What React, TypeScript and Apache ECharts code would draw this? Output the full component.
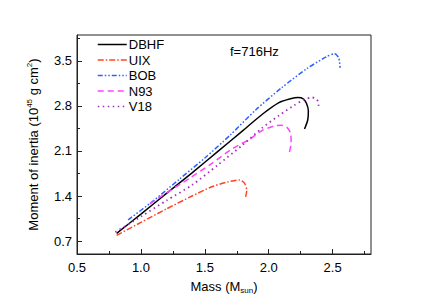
import React, { useEffect, useRef } from "react";
import * as echarts from "echarts";

const FONT = "'Liberation Sans', Arial, sans-serif";

const seriesNames = ["DBHF", "UIX", "BOB", "N93", "V18"];

const DBHF_M = [0.81, 1.0, 1.2, 1.4, 1.6, 1.8, 1.95, 2.08, 2.17, 2.23, 2.27, 2.295, 2.31, 2.305, 2.28];
const DBHF_I = [0.82, 1.12, 1.44, 1.76, 2.09, 2.42, 2.67, 2.85, 2.91, 2.93, 2.91, 2.84, 2.72, 2.58, 2.44];

const UIX_M = [0.81, 1.0, 1.2, 1.4, 1.55, 1.68, 1.77, 1.81, 1.828, 1.816];
const UIX_I = [0.79, 0.99, 1.2, 1.4, 1.54, 1.62, 1.65, 1.6, 1.49, 1.36];

const BOB_M = [0.9, 1.1, 1.3, 1.5, 1.7, 1.9, 2.1, 2.3, 2.45, 2.515, 2.548, 2.558];
const BOB_I = [1.03, 1.33, 1.66, 1.99, 2.35, 2.74, 3.08, 3.38, 3.56, 3.61, 3.54, 3.39];

const N93_M = [1.07, 1.2, 1.38, 1.55, 1.72, 1.85, 1.95, 2.05, 2.1, 2.14, 2.17, 2.175, 2.162];
const N93_I = [1.28, 1.45, 1.675, 1.9, 2.14, 2.28, 2.42, 2.49, 2.5, 2.47, 2.38, 2.22, 2.08];

const V18_M = [0.8, 1.0, 1.2, 1.4, 1.6, 1.8, 1.95, 2.08, 2.2, 2.28, 2.34, 2.37, 2.385, 2.39];
const V18_I = [0.84, 1.08, 1.33, 1.57, 1.88, 2.2, 2.46, 2.65, 2.81, 2.9, 2.93, 2.91, 2.87, 2.8];

const xMajorTicks = [0.5, 1.0, 1.5, 2.0, 2.5];
const xMinorTicks = [0.75, 1.25, 1.75, 2.25, 2.75];
const yMajorTicks = [0.7, 1.4, 2.1, 2.8, 3.5];
const yMinorTicks = [1.05, 1.75, 2.45, 3.15, 3.85];

const zip = (a: number[], b: number[]) => a.map((v, i) => [v, b[i]]);

export default function App() {
  const ref = useRef<HTMLDivElement>(null);
  useEffect(() => {
    if (!ref.current) return;
    const chart = echarts.init(ref.current, undefined, { renderer: "svg" });
    const lineSeries = (
      name: string,
      m: number[],
      i: number[],
      color: string,
      type: any,
      width: number
    ) => ({
      name,
      type: "line",
      data: zip(m, i),
      symbol: "none",
      smooth: 0.25,
      lineStyle: { color, type, width, cap: "butt" },
      itemStyle: { color },
    });
    const axisCommon = {
      type: "value",
      axisLine: { show: true, lineStyle: { color: "#222", width: 1 } },
      splitLine: { show: false },
    };
    chart.setOption({
      animation: false,
      backgroundColor: "#fff",
      textStyle: { fontFamily: FONT },
      grid: {
        left: 77,
        right: 60,
        top: 35,
        bottom: 51,
        show: true,
        borderColor: "#222",
        borderWidth: 1,
      },
      legend: {
        orient: "vertical",
        left: 97,
        top: 38,
        padding: 0,
        itemWidth: 29,
        itemHeight: 14,
        itemGap: 2.5,
        data: seriesNames,
        itemStyle: { opacity: 0, borderWidth: 0 },
        lineStyle: { width: 1.5 },
        textStyle: { fontSize: 13, color: "#000", fontFamily: FONT, padding: [0, 0, 0, -3] },
      },
      xAxis: [
        {
          ...axisCommon,
          min: 0.5,
          max: 2.8,
          position: "bottom",
          name: "Mass (M{sub|sun})",
          nameLocation: "middle",
          nameGap: 23,
          nameTextStyle: {
            fontSize: 13,
            color: "#000",
            fontFamily: FONT,
            lineHeight: 16,
            rich: {
              sub: { fontSize: 8, lineHeight: 8, verticalAlign: "bottom", color: "#000", fontFamily: FONT },
            },
          },
          axisTick: { show: true, inside: true, length: 5, customValues: xMajorTicks, lineStyle: { color: "#222" } },
          axisLabel: {
            show: true,
            customValues: xMajorTicks,
            fontSize: 13,
            color: "#000",
            margin: 7,
            fontFamily: FONT,
            formatter: (v: number) => v.toFixed(1),
          },
        },
        {
          type: "value",
          min: 0.5,
          max: 2.8,
          position: "bottom",
          axisLine: { show: false },
          splitLine: { show: false },
          axisLabel: { show: false },
          axisTick: { show: true, inside: true, length: 3, customValues: xMinorTicks, lineStyle: { color: "#222" } },
        },
      ],
      yAxis: [
        {
          ...axisCommon,
          min: 0.5,
          max: 3.9,
          position: "left",
          name: "Moment of inertia (10{sup|45} g cm{sup|2})",
          nameLocation: "middle",
          nameRotate: 90,
          nameGap: 36,
          nameTextStyle: {
            fontSize: 13,
            color: "#000",
            fontFamily: FONT,
            lineHeight: 16,
            rich: {
              sup: { fontSize: 8, lineHeight: 8, verticalAlign: "top", color: "#000", fontFamily: FONT },
            },
          },
          axisTick: { show: true, inside: true, length: 5, customValues: yMajorTicks, lineStyle: { color: "#222" } },
          axisLabel: {
            show: true,
            customValues: yMajorTicks,
            fontSize: 13,
            color: "#000",
            margin: 5,
            fontFamily: FONT,
            formatter: (v: number) => v.toFixed(1),
          },
        },
        {
          type: "value",
          min: 0.5,
          max: 3.9,
          position: "left",
          axisLine: { show: false },
          splitLine: { show: false },
          axisLabel: { show: false },
          axisTick: { show: true, inside: true, length: 3, customValues: yMinorTicks, lineStyle: { color: "#222" } },
        },
      ],
      graphic: [
        {
          type: "text",
          left: 230,
          top: 45,
          style: { text: "f=716Hz", font: `13px ${FONT}`, fill: "#000" },
        },
      ],
      series: [
        lineSeries("DBHF", DBHF_M, DBHF_I, "#000000", "solid", 1.5),
        lineSeries("UIX", UIX_M, UIX_I, "#FF4422", [6, 2, 1.5, 2], 1.5),
        lineSeries("BOB", BOB_M, BOB_I, "#3060FF", [5, 2, 1.5, 2, 1.5, 2], 1.5),
        lineSeries("N93", N93_M, N93_I, "#FF44FF", [6, 4], 1.5),
        lineSeries("V18", V18_M, V18_I, "#A030B8", [1.5, 3.5], 1.8),
      ],
    });
    return () => chart.dispose();
  }, []);
  return (
    <div
      ref={ref}
      style={{ position: "fixed", left: 0, top: 0, width: 431, height: 305, background: "#fff" }}
    />
  );
}
